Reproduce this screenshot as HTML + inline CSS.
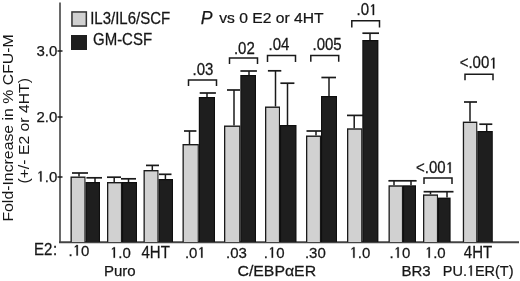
<!DOCTYPE html>
<html><head><meta charset="utf-8"><style>
html,body{margin:0;padding:0;background:#fff;}
svg{display:block;filter:grayscale(1) blur(0.3px);}
text{font-family:"Liberation Sans",sans-serif;fill:#161616;}
</style></head><body>
<svg width="520" height="281" viewBox="0 0 520 281">
<line x1="60" y1="2.5" x2="60" y2="243" stroke="#6a6a6a" stroke-width="2"/>
<line x1="59" y1="242.2" x2="519" y2="242.2" stroke="#444" stroke-width="2"/>
<line x1="57.5" y1="51" x2="62.5" y2="51" stroke="#1a1a1a" stroke-width="1.5"/>
<line x1="57.5" y1="117" x2="62.5" y2="117" stroke="#1a1a1a" stroke-width="1.5"/>
<line x1="57.5" y1="177" x2="62.5" y2="177" stroke="#1a1a1a" stroke-width="1.5"/>
<line x1="79" y1="173" x2="79" y2="176.5" stroke="#1a1a1a" stroke-width="1.5"/>
<line x1="72" y1="173" x2="88" y2="173" stroke="#1a1a1a" stroke-width="1.7"/>
<line x1="95" y1="177.8" x2="95" y2="182" stroke="#1a1a1a" stroke-width="1.5"/>
<line x1="86.4" y1="177.8" x2="102" y2="177.8" stroke="#1a1a1a" stroke-width="1.7"/>
<rect x="70.5" y="176.5" width="15" height="65.5" fill="#1a1a1a"/>
<rect x="71.8" y="177.9" width="12.6" height="64.1" fill="#d1d1d1"/>
<rect x="85.5" y="182" width="14.5" height="60" fill="#0e0e0e"/>
<rect x="86.6" y="183.2" width="12.3" height="58.8" fill="#1e1e1e"/>
<line x1="114.2" y1="177.2" x2="114.2" y2="182" stroke="#1a1a1a" stroke-width="1.5"/>
<line x1="107" y1="177.2" x2="121" y2="177.2" stroke="#1a1a1a" stroke-width="1.7"/>
<line x1="128.5" y1="178.8" x2="128.5" y2="182" stroke="#1a1a1a" stroke-width="1.5"/>
<line x1="121" y1="178.8" x2="136" y2="178.8" stroke="#1a1a1a" stroke-width="1.7"/>
<rect x="107" y="182" width="15" height="60" fill="#1a1a1a"/>
<rect x="108.3" y="183.4" width="12.6" height="58.6" fill="#d1d1d1"/>
<rect x="122" y="182" width="15" height="60" fill="#0e0e0e"/>
<rect x="123.1" y="183.2" width="12.8" height="58.8" fill="#1e1e1e"/>
<line x1="152.3" y1="165.4" x2="152.3" y2="170" stroke="#1a1a1a" stroke-width="1.5"/>
<line x1="146" y1="165.4" x2="159" y2="165.4" stroke="#1a1a1a" stroke-width="1.7"/>
<line x1="165.4" y1="174.3" x2="165.4" y2="179" stroke="#1a1a1a" stroke-width="1.5"/>
<line x1="159" y1="174.3" x2="171.5" y2="174.3" stroke="#1a1a1a" stroke-width="1.7"/>
<rect x="143.5" y="170" width="15" height="72" fill="#1a1a1a"/>
<rect x="144.8" y="171.4" width="12.6" height="70.6" fill="#d1d1d1"/>
<rect x="158.5" y="179" width="14.5" height="63" fill="#0e0e0e"/>
<rect x="159.6" y="180.2" width="12.3" height="61.8" fill="#1e1e1e"/>
<line x1="189.5" y1="131" x2="189.5" y2="144" stroke="#1a1a1a" stroke-width="1.5"/>
<line x1="184" y1="131" x2="196.4" y2="131" stroke="#1a1a1a" stroke-width="1.7"/>
<line x1="207" y1="93" x2="207" y2="97" stroke="#1a1a1a" stroke-width="1.5"/>
<line x1="199.7" y1="93" x2="215.9" y2="93" stroke="#1a1a1a" stroke-width="1.7"/>
<rect x="182.5" y="144" width="16.3" height="98" fill="#1a1a1a"/>
<rect x="183.8" y="145.4" width="13.9" height="96.6" fill="#d1d1d1"/>
<rect x="198.8" y="97" width="16.2" height="145" fill="#0e0e0e"/>
<rect x="199.9" y="98.2" width="14" height="143.8" fill="#1e1e1e"/>
<line x1="234" y1="90" x2="234" y2="125.5" stroke="#1a1a1a" stroke-width="1.5"/>
<line x1="227" y1="90" x2="240" y2="90" stroke="#1a1a1a" stroke-width="1.7"/>
<line x1="249" y1="71" x2="249" y2="75" stroke="#1a1a1a" stroke-width="1.5"/>
<line x1="240.4" y1="71" x2="256.9" y2="71" stroke="#1a1a1a" stroke-width="1.7"/>
<rect x="224" y="125.5" width="16.3" height="116.5" fill="#1a1a1a"/>
<rect x="225.3" y="126.9" width="13.9" height="115.1" fill="#d1d1d1"/>
<rect x="240.3" y="75" width="15.7" height="167" fill="#0e0e0e"/>
<rect x="241.4" y="76.2" width="13.5" height="165.8" fill="#1e1e1e"/>
<line x1="275.5" y1="70.8" x2="275.5" y2="106.5" stroke="#1a1a1a" stroke-width="1.5"/>
<line x1="267.9" y1="70.8" x2="281.3" y2="70.8" stroke="#1a1a1a" stroke-width="1.7"/>
<line x1="287.5" y1="83.2" x2="287.5" y2="125" stroke="#1a1a1a" stroke-width="1.5"/>
<line x1="280.4" y1="83.2" x2="294.4" y2="83.2" stroke="#1a1a1a" stroke-width="1.7"/>
<rect x="265" y="106.5" width="15" height="135.5" fill="#1a1a1a"/>
<rect x="266.3" y="107.9" width="12.6" height="134.1" fill="#d1d1d1"/>
<rect x="280" y="125" width="16.5" height="117" fill="#0e0e0e"/>
<rect x="281.1" y="126.2" width="14.3" height="115.8" fill="#1e1e1e"/>
<line x1="316" y1="131" x2="316" y2="135.5" stroke="#1a1a1a" stroke-width="1.5"/>
<line x1="306.5" y1="131" x2="321" y2="131" stroke="#1a1a1a" stroke-width="1.7"/>
<line x1="329" y1="77.5" x2="329" y2="96" stroke="#1a1a1a" stroke-width="1.5"/>
<line x1="321.4" y1="77.5" x2="336" y2="77.5" stroke="#1a1a1a" stroke-width="1.7"/>
<rect x="306" y="135.5" width="15" height="106.5" fill="#1a1a1a"/>
<rect x="307.3" y="136.9" width="12.6" height="105.1" fill="#d1d1d1"/>
<rect x="321" y="96" width="16" height="146" fill="#0e0e0e"/>
<rect x="322.1" y="97.2" width="13.8" height="144.8" fill="#1e1e1e"/>
<line x1="354.2" y1="115.4" x2="354.2" y2="128.3" stroke="#1a1a1a" stroke-width="1.5"/>
<line x1="347" y1="115.4" x2="367" y2="115.4" stroke="#1a1a1a" stroke-width="1.7"/>
<line x1="370" y1="33.2" x2="370" y2="40" stroke="#1a1a1a" stroke-width="1.5"/>
<line x1="362.4" y1="33.2" x2="379" y2="33.2" stroke="#1a1a1a" stroke-width="1.7"/>
<rect x="347" y="128.3" width="15.3" height="113.7" fill="#1a1a1a"/>
<rect x="348.3" y="129.7" width="12.9" height="112.3" fill="#d1d1d1"/>
<rect x="362.3" y="40" width="16.1" height="202" fill="#0e0e0e"/>
<rect x="363.4" y="41.2" width="13.9" height="200.8" fill="#1e1e1e"/>
<line x1="394" y1="180.8" x2="394" y2="185.3" stroke="#1a1a1a" stroke-width="1.5"/>
<line x1="388.4" y1="180.8" x2="403" y2="180.8" stroke="#1a1a1a" stroke-width="1.7"/>
<line x1="411" y1="180.8" x2="411" y2="185.3" stroke="#1a1a1a" stroke-width="1.5"/>
<line x1="403" y1="180.8" x2="416.6" y2="180.8" stroke="#1a1a1a" stroke-width="1.7"/>
<rect x="388.5" y="185.3" width="14.5" height="56.7" fill="#1a1a1a"/>
<rect x="389.8" y="186.7" width="12.1" height="55.3" fill="#d1d1d1"/>
<rect x="403" y="185.3" width="13" height="56.7" fill="#0e0e0e"/>
<rect x="404.1" y="186.5" width="10.8" height="55.5" fill="#1e1e1e"/>
<line x1="430.5" y1="191.7" x2="430.5" y2="194.4" stroke="#1a1a1a" stroke-width="1.5"/>
<line x1="423.6" y1="191.7" x2="438" y2="191.7" stroke="#1a1a1a" stroke-width="1.7"/>
<line x1="447" y1="191.7" x2="447" y2="197.6" stroke="#1a1a1a" stroke-width="1.5"/>
<line x1="438" y1="191.7" x2="453.5" y2="191.7" stroke="#1a1a1a" stroke-width="1.7"/>
<rect x="423" y="194.4" width="15" height="47.6" fill="#1a1a1a"/>
<rect x="424.3" y="195.8" width="12.6" height="46.2" fill="#d1d1d1"/>
<rect x="438" y="197.6" width="12.6" height="44.4" fill="#0e0e0e"/>
<rect x="439.1" y="198.8" width="10.4" height="43.2" fill="#1e1e1e"/>
<line x1="470" y1="102" x2="470" y2="121.6" stroke="#1a1a1a" stroke-width="1.5"/>
<line x1="464" y1="102" x2="477" y2="102" stroke="#1a1a1a" stroke-width="1.7"/>
<line x1="486.7" y1="124.2" x2="486.7" y2="131" stroke="#1a1a1a" stroke-width="1.5"/>
<line x1="479.3" y1="124.2" x2="492.3" y2="124.2" stroke="#1a1a1a" stroke-width="1.7"/>
<rect x="462.8" y="121.6" width="14.5" height="120.4" fill="#1a1a1a"/>
<rect x="464.1" y="123" width="12.1" height="119" fill="#d1d1d1"/>
<rect x="477.3" y="131" width="15.5" height="111" fill="#0e0e0e"/>
<rect x="478.4" y="132.2" width="13.3" height="109.8" fill="#1e1e1e"/>
<path d="M188.5 86.1V80H216.5V86.1" fill="none" stroke="#1a1a1a" stroke-width="1.5"/>
<g transform="translate(192.5,75.4) scale(1.0,1.04)"><text font-size="15" stroke="#161616" stroke-width="0.25">.03</text></g>
<path d="M229.5 64.1V58H257.5V64.1" fill="none" stroke="#1a1a1a" stroke-width="1.5"/>
<g transform="translate(233.9,53.6) scale(1.0,1.04)"><text font-size="15" stroke="#161616" stroke-width="0.25">.02</text></g>
<path d="M267.5 62V55.4H295.5V62" fill="none" stroke="#1a1a1a" stroke-width="1.5"/>
<g transform="translate(268.5,49.8) scale(1.0,1.04)"><text font-size="15" stroke="#161616" stroke-width="0.25">.04</text></g>
<path d="M310.8 61.8V55.5H338.7V61.8" fill="none" stroke="#1a1a1a" stroke-width="1.5"/>
<g transform="translate(312.5,49.6) scale(1.0,1.04)"><text font-size="15" stroke="#161616" stroke-width="0.25">.005</text></g>
<path d="M351.8 27.4V20.7H379.5V27.4" fill="none" stroke="#1a1a1a" stroke-width="1.5"/>
<g transform="translate(356.5,15.1) scale(1.0,1.04)"><text font-size="15" stroke="#161616" stroke-width="0.25">.0 </text><path transform="translate(12.51,0) scale(0.00732,-0.00732)" d="M505 0L505 1220L280 1060L280 1200L530 1409L696 1409L696 0Z" fill="#161616" stroke="#161616" stroke-width="0.25" vector-effect="non-scaling-stroke"/></g>
<path d="M424 184V178H452V184" fill="none" stroke="#1a1a1a" stroke-width="1.5"/>
<g transform="translate(416,173) scale(1.0,1.04)"><text font-size="15" stroke="#161616" stroke-width="0.25">&lt;.00 </text><path transform="translate(29.61,0) scale(0.00732,-0.00732)" d="M505 0L505 1220L280 1060L280 1200L530 1409L696 1409L696 0Z" fill="#161616" stroke="#161616" stroke-width="0.25" vector-effect="non-scaling-stroke"/></g>
<path d="M465 80.3V74.3H493V80.3" fill="none" stroke="#1a1a1a" stroke-width="1.5"/>
<g transform="translate(459.7,68.4) scale(1.0,1.04)"><text font-size="15" stroke="#161616" stroke-width="0.25">&lt;.00 </text><path transform="translate(29.61,0) scale(0.00732,-0.00732)" d="M505 0L505 1220L280 1060L280 1200L530 1409L696 1409L696 0Z" fill="#161616" stroke="#161616" stroke-width="0.25" vector-effect="non-scaling-stroke"/></g>
<g transform="translate(68.6,255.5) scale(1.0,1.02)"><text font-size="15" stroke="#161616" stroke-width="0.25">. 0</text><path transform="translate(4.17,0) scale(0.00732,-0.00732)" d="M505 0L505 1220L280 1060L280 1200L530 1409L696 1409L696 0Z" fill="#161616" stroke="#161616" stroke-width="0.25" vector-effect="non-scaling-stroke"/></g>
<g transform="translate(109.9,257.7) scale(1.0,1.02)"><text font-size="15" stroke="#161616" stroke-width="0.25"> .0</text><path transform="translate(0,0) scale(0.00732,-0.00732)" d="M505 0L505 1220L280 1060L280 1200L530 1409L696 1409L696 0Z" fill="#161616" stroke="#161616" stroke-width="0.25" vector-effect="non-scaling-stroke"/></g>
<g transform="translate(141.5,257.7) scale(1.0,1.08)"><text font-size="15" stroke="#161616" stroke-width="0.25">4HT</text></g>
<g transform="translate(184.9,257.7) scale(1.0,1.02)"><text font-size="15" stroke="#161616" stroke-width="0.25">.0 </text><path transform="translate(12.51,0) scale(0.00732,-0.00732)" d="M505 0L505 1220L280 1060L280 1200L530 1409L696 1409L696 0Z" fill="#161616" stroke="#161616" stroke-width="0.25" vector-effect="non-scaling-stroke"/></g>
<g transform="translate(226.1,257.7) scale(1.0,1.02)"><text font-size="15" stroke="#161616" stroke-width="0.25">.03</text></g>
<g transform="translate(263.8,257.7) scale(1.0,1.02)"><text font-size="15" stroke="#161616" stroke-width="0.25">. 0</text><path transform="translate(4.17,0) scale(0.00732,-0.00732)" d="M505 0L505 1220L280 1060L280 1200L530 1409L696 1409L696 0Z" fill="#161616" stroke="#161616" stroke-width="0.25" vector-effect="non-scaling-stroke"/></g>
<g transform="translate(304.9,257.7) scale(1.0,1.02)"><text font-size="15" stroke="#161616" stroke-width="0.25">.30</text></g>
<g transform="translate(349.5,257.7) scale(1.0,1.02)"><text font-size="15" stroke="#161616" stroke-width="0.25"> .0</text><path transform="translate(0,0) scale(0.00732,-0.00732)" d="M505 0L505 1220L280 1060L280 1200L530 1409L696 1409L696 0Z" fill="#161616" stroke="#161616" stroke-width="0.25" vector-effect="non-scaling-stroke"/></g>
<g transform="translate(389.5,257.7) scale(1.0,1.02)"><text font-size="15" stroke="#161616" stroke-width="0.25">. 0</text><path transform="translate(4.17,0) scale(0.00732,-0.00732)" d="M505 0L505 1220L280 1060L280 1200L530 1409L696 1409L696 0Z" fill="#161616" stroke="#161616" stroke-width="0.25" vector-effect="non-scaling-stroke"/></g>
<g transform="translate(424.8,257.7) scale(1.0,1.02)"><text font-size="15" stroke="#161616" stroke-width="0.25"> .0</text><path transform="translate(0,0) scale(0.00732,-0.00732)" d="M505 0L505 1220L280 1060L280 1200L530 1409L696 1409L696 0Z" fill="#161616" stroke="#161616" stroke-width="0.25" vector-effect="non-scaling-stroke"/></g>
<g transform="translate(463.8,257.7) scale(1.0,1.08)"><text font-size="15" stroke="#161616" stroke-width="0.25">4HT</text></g>
<g transform="translate(104,275.8) scale(1.0,1.0)"><text font-size="15" stroke="#161616" stroke-width="0.25">Puro</text></g>
<g transform="translate(237.5,275.9) scale(1.056,1.0)"><text font-size="15" stroke="#161616" stroke-width="0.25">C/EBPαER</text></g>
<g transform="translate(401.4,275.8) scale(1.0,1.0)"><text font-size="15" stroke="#161616" stroke-width="0.25">BR3</text></g>
<g transform="translate(442.8,275.8) scale(0.965,1.0)"><text font-size="15" stroke="#161616" stroke-width="0.25">PU. ER(T)</text><path transform="translate(25,0) scale(0.00732,-0.00732)" d="M505 0L505 1220L280 1060L280 1200L530 1409L696 1409L696 0Z" fill="#161616" stroke="#161616" stroke-width="0.25" vector-effect="non-scaling-stroke"/></g>
<g transform="translate(33.9,254.7) scale(1.0,1.08)"><text font-size="15" stroke="#161616" stroke-width="0.25">E2<tspan dx="0.8">:</tspan></text></g>
<g transform="translate(57.3,55.5) scale(1.0,1.0)"><text font-size="15" text-anchor="end" stroke="#161616" stroke-width="0.25">3.0</text></g>
<g transform="translate(57.3,121.5) scale(1.0,1.0)"><text font-size="15" text-anchor="end" stroke="#161616" stroke-width="0.25">2.0</text></g>
<g transform="translate(57.3,181.5) scale(1.0,1.0)"><text font-size="15" text-anchor="end" stroke="#161616" stroke-width="0.25"> .0</text><path transform="translate(-20.85,0) scale(0.00732,-0.00732)" d="M505 0L505 1220L280 1060L280 1200L530 1409L696 1409L696 0Z" fill="#161616" stroke="#161616" stroke-width="0.25" vector-effect="non-scaling-stroke"/></g>
<rect x="71.95" y="11.95" width="14.4" height="14.1" fill="#d1d1d1" stroke="#333" stroke-width="1.5"/>
<rect x="71" y="35" width="16" height="15" fill="#1e1e1e"/>
<g transform="translate(90.2,23.6) scale(1.0,1.09)"><text font-size="15" stroke="#161616" stroke-width="0.25">IL3/IL6/SCF</text></g>
<g transform="translate(93,45) scale(1.0,1.09)"><text font-size="15" stroke="#161616" stroke-width="0.25">GM-CSF</text></g>
<g transform="translate(200.7,23.5) scale(1.0,1.0)"><text font-size="17.6" stroke="#161616" stroke-width="0.25" font-style="italic">P</text></g>
<g transform="translate(219.3,23.3) scale(1.004,0.955)"><text font-size="15.6" stroke="#161616" stroke-width="0.25">vs 0 E2 or 4HT</text></g>
<text transform="translate(13.3,221.6) rotate(-90)" font-size="14.8" textLength="187.3" lengthAdjust="spacingAndGlyphs">Fold-Increase in % CFU-M</text>
<text transform="translate(29.0,183.6) rotate(-90)" font-size="14.8" textLength="105.6" lengthAdjust="spacingAndGlyphs">(+/- E2 or 4HT)</text>
</svg>
</body></html>
